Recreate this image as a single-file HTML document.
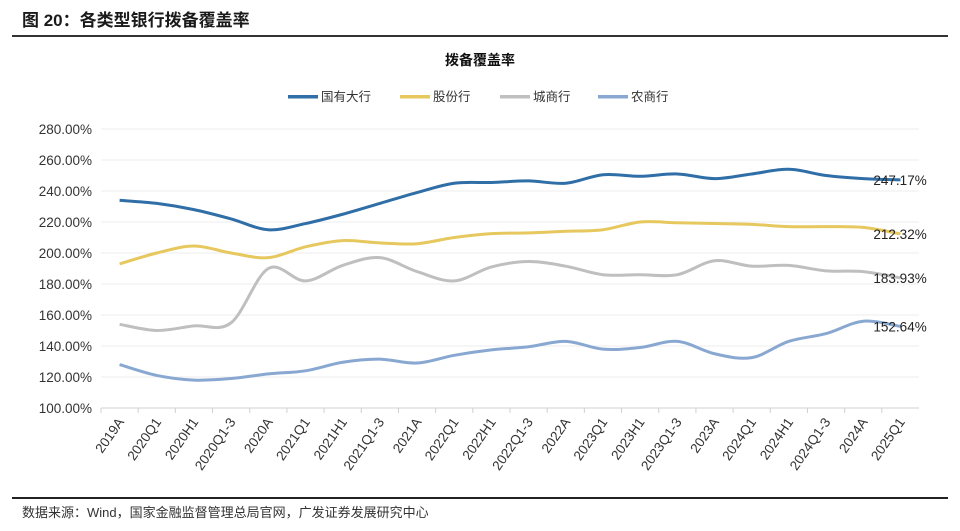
<!DOCTYPE html>
<html><head><meta charset="utf-8"><style>
body{margin:0;width:960px;height:526px;background:#fff;font-family:"Liberation Sans","Noto Sans CJK SC",sans-serif;overflow:hidden}
</style></head><body>
<svg width="960" height="526" xmlns="http://www.w3.org/2000/svg">
<text x="22" y="26" font-size="17" font-weight="bold" fill="#1a1a1a" font-family="Liberation Sans,Noto Sans CJK SC,sans-serif">图 20：各类型银行拨备覆盖率</text>
<rect x="12" y="35" width="936" height="2" fill="#333"/>
<text x="480" y="65" font-size="14" font-weight="bold" text-anchor="middle" fill="#111" font-family="Liberation Sans,Noto Sans CJK SC,sans-serif">拨备覆盖率</text>
<g id="legend"></g>
<g id="grid"></g><g id="lines"></g><g id="xl"></g>
<rect x="12" y="497" width="936" height="2" fill="#222"/>
<text x="22" y="517" font-size="13" fill="#333" font-family="Liberation Sans,Noto Sans CJK SC,sans-serif">数据来源：Wind，国家金融监督管理总局官网，广发证券发展研究中心</text>
</svg>
<script>
const categories=["2019A","2020Q1","2020H1","2020Q1-3","2020A","2021Q1","2021H1","2021Q1-3","2021A","2022Q1","2022H1","2022Q1-3","2022A","2023Q1","2023H1","2023Q1-3","2023A","2024Q1","2024H1","2024Q1-3","2024A","2025Q1"];
const seriesNames=["国有大行","股份行","城商行","农商行"];
const guoyou=[234,232,228,222,215,219,225,232,239,245,245.5,246.5,245,250.5,249.5,251,248,251,254,250,248,247.17];
const gufen=[193,200,204.5,200,197,204,208,206.5,206,210,212.5,213,214,215,220,219.5,219,218.5,217,217,216.5,212.32];
const chengshang=[154,150,153,155,190,182,192,197,188,182,191,194.5,191.5,186,186,186,195,191.5,192,188.5,188,183.93];
const nongshang=[128,121,118,119,122,124,129.5,131.5,129,134,137.5,139.5,143,138,139,143,135,132.5,143,148,156,152.64];
const yTicks=[100,120,140,160,180,200,220,240,260,280];
const colors=["#2f6ea6","#e6c85f","#bfbfbf","#89a8d1"];
const ns="http://www.w3.org/2000/svg";
const X0=101,X1=919,Y0=408,Y1=129;
const bw=(X1-X0)/categories.length;
const x=i=>X0+bw*(i+0.5);
const y=v=>Y0-(v-100)/180*(Y0-Y1);
function mk(t,a,p){const e=document.createElementNS(ns,t);for(const k in a)e.setAttribute(k,a[k]);p.appendChild(e);return e;}
const grid=document.getElementById('grid');
yTicks.forEach(v=>{
 const l=mk('line',{x1:X0,x2:X1,y1:y(v),y2:y(v),stroke:v===100?'#d0d0d0':'#eeeeee','stroke-width':1},grid);
 
 
 const t=mk('text',{x:92,y:y(v)+5,'font-size':13.5,'text-anchor':'end',fill:'#333'},grid);
 t.textContent=v.toFixed(2)+'%';
 
 
});
const xl=document.getElementById('xl');
categories.forEach((c,i)=>{
 const tk=mk('line',{x1:X0+bw*i,x2:X0+bw*i,y1:Y0,y2:Y0+5,stroke:'#d0d0d0'},xl);
 
 
 const t=mk('text',{x:x(i)+5,y:Y0+14,'font-size':13.5,'text-anchor':'end',fill:'#333',transform:`rotate(-55 ${x(i)+5} ${Y0+14})`},xl);
 t.textContent=c;
 
 
});
function path(vals){
 const p=vals.map((v,i)=>[x(i),y(v)]);
 let d=`M${p[0][0]},${p[0][1]}`;
 for(let i=0;i<p.length-1;i++){
  const p0=p[Math.max(0,i-1)],p1=p[i],p2=p[i+1],p3=p[Math.min(p.length-1,i+2)];
  const c1=[p1[0]+(p2[0]-p0[0])/6,p1[1]+(p2[1]-p0[1])/6];
  const c2=[p2[0]-(p3[0]-p1[0])/6,p2[1]-(p3[1]-p1[1])/6];
  d+=`C${c1[0]},${c1[1]} ${c2[0]},${c2[1]} ${p2[0]},${p2[1]}`;
 }
 return d;
}
const lines=document.getElementById('lines');
const all=[guoyou,gufen,chengshang,nongshang];
const lnames=['line-guoyou','line-gufen','line-chengshang','line-nongshang'];
[2,3,1,0].forEach(k=>{
 const l=mk('path',{d:path(all[k]),fill:'none',stroke:colors[k],'stroke-width':3},lines);
 
 
});
all.forEach((s,k)=>{
 const n=s.length-1;
 const t=mk('text',{x:x(n)-27,y:y(s[n])+5,'font-size':13.5,fill:'#222'},lines);
 t.textContent=s[n].toFixed(2)+'%';
 
 
});
const lg=document.getElementById('legend');
const lx=[288,400,500,598];
seriesNames.forEach((s,k)=>{
 const r=mk('rect',{x:lx[k],y:95,width:30,height:3.5,fill:colors[k]},lg);
 
 
 const t=mk('text',{x:lx[k]+33,y:101,'font-size':12.5,fill:'#333'},lg);
 t.textContent=s;
 
 
});
</script>
</body></html>
